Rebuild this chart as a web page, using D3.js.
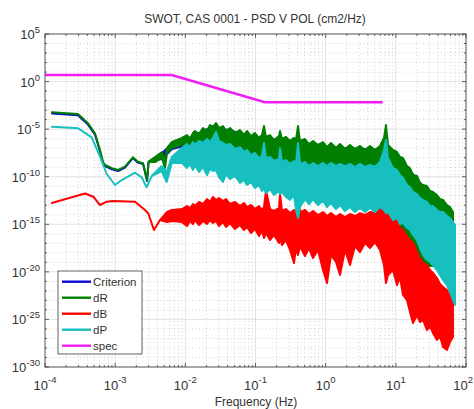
<!DOCTYPE html>
<html><head><meta charset="utf-8">
<script src="https://cdn.jsdelivr.net/npm/d3@7"></script>
<style>body{margin:0;background:#fff}svg{display:block}</style>
</head><body>
<svg id="c" width="474" height="409"></svg>
<script>
// ---------- text ----------
const chartTitle = "SWOT, CAS 0001 - PSD V POL (cm2/Hz)";
const xAxisLabel = "Frequency (Hz)";
const seriesNames = ["Criterion", "dR", "dB", "dP", "spec"];
const xTickExps = [-4, -3, -2, -1, 0, 1, 2];
const yTickExps = [5, 0, -5, -10, -15, -20, -25, -30];

// ---------- data (upper / lower edge of each trace) ----------
// common frequency grid of the dense (noisy) part, Hz
const bandF = [8.96e-3,1.056e-2,1.165e-2,1.286e-2,1.373e-2,1.566e-2,1.785e-2,2.036e-2,2.246e-2,2.478e-2,2.735e-2,3.018e-2,3.44e-2,3.80e-2,4.33e-2,5.10e-2,6.01e-2,6.85e-2,7.56e-2,8.62e-2,9.83e-2,0.1121,0.1238,0.1321,0.1411,0.1609,0.1834,0.2162,0.2234,0.2385,0.2720,0.3101,0.3536,0.3776,0.4031,0.4305,0.5074,0.5786,0.6597,0.7772,0.9158,1.044,1.191,1.403,1.600,1.885,2.222,2.617,3.084,3.634,4.281,5.045,5.943,6.778,7.237,7.730,9.108,10.38,11.46,12.65,14.42,15.91,17.56,20.02,22.09,24.37,27.79,30.67,33.84,38.59,42.58,46.98,53.57,59.12,65.23];

// Criterion
const criterionF  = [1.26e-4,2.95e-4,4.1e-4,5.16e-4,6.08e-4,6.7e-4,7.16e-4,9.0e-4,1.1e-3,1.38e-3,1.79e-3,2.11e-3,2.5e-3,2.85e-3,2.99e-3,3.7e-3,4.65e-3,6.46e-3,8.95e-3,1.29e-2,2.48e-2,0.0984,1.15,5.95,11.5,24.4,60.0];
const criterionHi = [4.5e-4,2.8e-4,3.0e-5,2.6e-6,4.8e-8,2.8e-9,1.3e-9,6.0e-10,4.0e-10,9.0e-10,9.0e-9,3.0e-9,2.1e-9,3.6e-11,3.0e-9,7.0e-9,3.0e-8,3.0e-7,4.5e-7,2.0e-6,2.0e-5,1.5e-6,1.2e-7,7e-8,8e-9,9e-12,1.3e-14];
const criterionLo = [4.5e-4,2.8e-4,3.0e-5,2.6e-6,4.8e-8,2.8e-9,1.3e-9,6.0e-10,4.0e-10,9.0e-10,9.0e-9,3.0e-9,2.1e-9,3.6e-11,3.0e-9,7.0e-9,7e-9,8e-8,1.5e-7,5e-8,8e-9,3e-10,5e-11,4.5e-11,1e-13,1e-14,5e-15];

// dR : low-frequency part, then values on bandF
const dRLowF  = [1.26e-4,2.95e-4,4.1e-4,5.16e-4,6.08e-4,6.7e-4,7.16e-4,9.0e-4,1.1e-3,1.38e-3,1.79e-3,2.11e-3,2.5e-3,2.85e-3,2.99e-3,3.7e-3,4.65e-3,5.13e-3,5.48e-3,6.46e-3];
const dRLowHi = [5.9e-4,3.9e-4,4.1e-5,3.7e-6,6.4e-8,3.8e-9,1.7e-9,7.7e-10,5.1e-10,1.13e-9,1.1e-8,3.8e-9,2.6e-9,4.5e-11,3.8e-9,1.18e-8,3.95e-8,5.7e-9,1.04e-7,4.45e-7];
const dRLowLo = [5.9e-4,3.9e-4,4.1e-5,3.7e-6,6.4e-8,3.8e-9,1.7e-9,7.7e-10,5.1e-10,1.13e-9,1.1e-8,3.8e-9,2.6e-9,4.5e-11,3.8e-9,3.5e-9,9.25e-9,8.2e-10,3.1e-8,1.04e-7];
const dRBandHi = [1.2e-6,2.4e-6,9.2e-7,3.9e-6,6.4e-6,3.1e-6,1.3e-5,6.4e-6,2.7e-5,1.7e-5,4.4e-5,1.3e-5,2.1e-5,6.4e-6,1.3e-5,3.9e-6,8.1e-6,2.4e-6,6.4e-6,1.9e-6,3.9e-6,1.2e-6,2.4e-6,2.1e-5,1.5e-6,2.4e-6,7.2e-7,1.9e-6,6.4e-6,9.2e-7,1.5e-6,5.7e-7,1.2e-6,7.2e-7,2.1e-5,5.7e-7,9.2e-7,2.7e-7,5.7e-7,2.2e-7,4.4e-7,1.3e-7,3.5e-7,1.04e-7,2.7e-7,8.2e-8,2.2e-7,8.2e-8,1.7e-7,6.4e-8,1.7e-7,6.4e-8,1.7e-7,1.2e-6,2.7e-5,2.2e-7,6.4e-8,4.0e-8,1.18e-8,9.2e-9,1.3e-9,8.2e-10,1.5e-10,1.19e-10,2.2e-11,1.34e-11,1.05e-11,3.1e-12,2.5e-12,1.19e-12,4.5e-13,3.6e-13,1.06e-13,6.5e-14,1.95e-14];
const dRBandLo = [2.2e-7,1.7e-7,1.04e-7,6.4e-8,5.0e-8,4.0e-8,1.9e-8,1.5e-8,1.18e-8,9.2e-9,5.7e-9,4.5e-9,3.5e-9,2.8e-9,1.7e-9,1.05e-9,8.2e-10,6.5e-10,5.1e-10,4.0e-10,3.1e-10,2.5e-10,1.5e-10,1.5e-10,1.5e-10,1.5e-10,1.5e-10,1.5e-10,1.5e-10,1.5e-10,1.19e-10,1.19e-10,1.19e-10,1.19e-10,1.19e-10,9.3e-11,9.3e-11,7.3e-11,7.3e-11,5.7e-11,5.7e-11,4.5e-11,4.5e-11,4.5e-11,4.5e-11,4.5e-11,4.5e-11,4.5e-11,4.5e-11,4.5e-11,4.5e-11,4.5e-11,4.5e-11,4.5e-11,4.5e-11,4.5e-11,2.8e-15,8.4e-16,2.5e-16,7.5e-17,2.2e-17,8.5e-18,3.2e-18,1.22e-18,2.85e-19,1.08e-19,5.2e-20,4.1e-20,4.1e-20,4.1e-20,5.2e-20,1.08e-19,2.85e-19,5.9e-19,2.2e-17];

// dB
const dBLowF  = [1.25e-4,3.72e-4,4.88e-4,6.08e-4,7.57e-4,9.4e-4,1.92e-3,2.66e-3,2.96e-3,3.57e-3,4.36e-3,5.48e-3,6.46e-3];
const dBLowHi = [1.73e-13,1.72e-12,7.9e-13,1.06e-13,2.36e-13,2.8e-13,2.36e-13,3.2e-14,1.43e-14,2.5e-16,2.8e-15,1.95e-14,3.2e-14];
const dBLowLo = [1.73e-13,1.72e-12,7.9e-13,1.06e-13,2.36e-13,2.8e-13,2.36e-13,3.2e-14,1.43e-14,2.5e-16,2.8e-15,1.73e-15,2.2e-15];
const dBBandHi = [4.0e-14,8.3e-14,5.1e-14,1.35e-13,8.3e-14,2.2e-13,1.35e-13,4.5e-13,2.2e-13,7.4e-13,3.6e-13,5.8e-13,2.8e-13,4.5e-13,1.35e-13,2.2e-13,8.3e-14,1.7e-13,6.5e-14,1.06e-13,4.0e-14,8.3e-14,3.2e-14,6.5e-14,4.0e-12,4.0e-14,2.5e-14,5.1e-14,1.9e-12,2.5e-14,4.0e-14,1.5e-14,3.2e-14,1.5e-14,8.3e-12,1.95e-14,3.2e-14,1.2e-14,2.5e-14,9.4e-15,1.95e-14,7.4e-15,1.5e-14,5.8e-15,1.2e-14,5.8e-15,1.2e-14,7.4e-15,1.5e-14,9.4e-15,1.95e-14,1.5e-14,5.1e-14,1.06e-13,3.6e-13,6.5e-14,9.4e-15,1.7e-15,4.1e-16,2.5e-16,5.9e-17,2.2e-17,1.08e-17,1.22e-18,2.85e-19,8.5e-20,5.2e-20,1.56e-20,7.6e-21,2.25e-21,5.3e-22,2.55e-22,1.24e-22,3.7e-23,1.1e-23];
const dBBandLo = [1.7e-15,6.6e-16,2.2e-15,1.07e-15,2.8e-15,8.4e-16,2.2e-15,1.07e-15,2.8e-15,1.36e-15,2.2e-15,6.6e-16,1.7e-15,5.2e-16,1.36e-15,3.2e-16,8.4e-16,2.5e-16,5.2e-16,1.21e-16,3.2e-16,5.9e-17,1.96e-16,3.6e-17,1.21e-16,2.2e-17,7.5e-17,1.08e-17,4.6e-17,6.6e-18,2.2e-17,2.0e-18,8.5e-20,3.2e-18,5.9e-19,5.2e-18,4.6e-19,3.2e-18,2.85e-19,2.0e-18,1.56e-20,6.7e-22,5.9e-19,1.08e-19,4.7e-21,2.0e-18,5.2e-20,5.2e-18,1.22e-18,1.08e-17,3.2e-18,1.37e-17,2.0e-18,5.2e-20,6.7e-22,4.7e-21,1.56e-20,4.1e-22,2.9e-21,3.7e-23,1.1e-23,6.0e-25,4.2e-26,2.9e-25,5.3e-26,8.7e-26,7.7e-27,2.0e-26,3.7e-27,6.9e-28,1.8e-27,1.26e-28,6.1e-29,4.2e-28,1.42e-27];

// dP
const dPLowF  = [1.25e-4,2.98e-4,4.63e-4,6.08e-4,7.57e-4,9.94e-4,1.24e-3,1.92e-3,2.39e-3,2.81e-3,3.32e-3,4.6e-3,5.42e-3,6.4e-3];
const dPLowHi = [1.81e-5,1.22e-5,1.39e-6,1.27e-8,1.93e-10,1.34e-11,4.5e-11,2.64e-10,8.65e-11,7.7e-12,1.19e-10,1.34e-9,3.1e-10,1.18e-8];
const dPLowLo = [1.81e-5,1.22e-5,1.39e-6,1.27e-8,1.93e-10,1.34e-11,4.5e-11,2.64e-10,8.65e-11,7.7e-12,1.19e-10,4.0e-10,2.8e-11,2.76e-9];
const dPBandHi = [1.04e-7,2.7e-7,1.3e-7,4.4e-7,2.2e-7,5.7e-7,3.5e-7,9.2e-7,4.4e-7,1.2e-6,5.0e-6,5.7e-7,3.5e-7,2.2e-7,2.7e-7,8.2e-8,1.3e-7,4.0e-8,6.4e-8,1.9e-8,3.1e-8,9.2e-9,1.5e-8,3.5e-7,9.2e-9,1.18e-8,4.5e-9,7.3e-9,1.04e-7,3.5e-9,5.7e-9,2.2e-9,4.5e-9,2.2e-9,3.5e-7,2.2e-9,3.5e-9,1.3e-9,2.8e-9,1.3e-9,2.8e-9,1.3e-9,2.8e-9,1.3e-9,2.2e-9,1.3e-9,2.2e-9,1.05e-9,2.2e-9,1.05e-9,1.7e-9,1.05e-9,3.5e-9,6.4e-8,7.2e-7,9.2e-9,8.2e-10,5.1e-10,1.5e-10,7.3e-11,1.34e-11,8.3e-12,2.5e-12,1.5e-12,5.8e-13,3.6e-13,2.2e-13,8.3e-14,8.3e-14,3.2e-14,1.95e-14,1.95e-14,7.4e-15,4.6e-15,1.7e-15];
const dPBandLo = [2.8e-9,8.2e-10,2.2e-9,5.1e-10,1.7e-9,3.1e-10,1.05e-9,1.5e-10,6.5e-10,4.0e-10,5.1e-10,9.3e-11,2.8e-11,1.9e-10,5.7e-11,1.19e-10,2.2e-11,4.5e-11,1.34e-11,2.8e-11,6.5e-12,1.34e-11,3.1e-12,6.5e-12,1.9e-12,5.1e-12,1.19e-12,3.1e-12,1.5e-12,2.5e-12,7.4e-13,3.6e-13,1.19e-12,3.2e-14,4.6e-15,6.5e-14,4.5e-13,1.35e-13,4.5e-13,1.06e-13,2.8e-13,6.5e-14,1.7e-13,4.0e-14,1.06e-13,2.5e-14,6.5e-14,1.95e-14,5.1e-14,1.95e-14,5.1e-14,1.95e-14,6.5e-14,3.2e-14,1.5e-14,1.95e-14,2.8e-15,4.6e-15,1.07e-15,1.36e-15,4.1e-16,2.5e-16,7.5e-17,2.2e-17,3.2e-18,5.9e-19,1.76e-19,1.08e-19,5.2e-20,1.56e-20,4.7e-21,1.4e-21,4.1e-22,7.6e-23,1.1e-23];
const dPEndF = [69.66], dPEndHi = [8.4e-16], dPEndLo = [3.3e-24];

// spec
const specF = [1e-4, 6.4e-3, 0.136, 6.5];
const specV = [4.9, 4.9, 6.6e-3, 6.6e-3];

const seriesColors = ["#0a0ad2", "#007f00", "#ff0000", "#17bfbf", "#f21df2"];

// ---------- layout ----------
const svg = d3.select("#c");
const P = {l: 45, r: 466, t: 34, b: 367};
const x = d3.scaleLog().domain([1e-4, 1e2]).range([P.l, P.r]);
const y = d3.scaleLog().domain([1e-30, 1e5]).range([P.b, P.t]);
const FONT = "'Liberation Sans', Arial, Helvetica, sans-serif";
const TXT = "#333";

svg.append("rect").attr("x", P.l).attr("y", P.t).attr("width", P.r - P.l).attr("height", P.b - P.t).attr("fill", "#fff");

// grid
const isDecade = v => Math.abs(Math.log10(v) - Math.round(Math.log10(v))) < 1e-6;
const xMinor = x.ticks().filter(v => !isDecade(v));
const xMajor = xTickExps.map(e => Math.pow(10, e));
const yMajor = yTickExps.map(e => Math.pow(10, e));
const yMinor = d3.range(-30, 6).filter(e => e % 5 !== 0).map(e => Math.pow(10, e));

const grid = svg.append("g");
grid.selectAll(".xm").data(xMinor).join("line")
  .attr("x1", d => x(d)).attr("x2", d => x(d)).attr("y1", P.t).attr("y2", P.b)
  .attr("stroke", "#c8c8c8").attr("stroke-width", 0.8).attr("stroke-dasharray", "1,2.5");
grid.selectAll(".ym").data(yMinor).join("line")
  .attr("y1", d => y(d)).attr("y2", d => y(d)).attr("x1", P.l).attr("x2", P.r)
  .attr("stroke", "#c8c8c8").attr("stroke-width", 0.8).attr("stroke-dasharray", "1,2.5");
grid.selectAll(".xM").data(xMajor).join("line")
  .attr("x1", d => x(d)).attr("x2", d => x(d)).attr("y1", P.t).attr("y2", P.b)
  .attr("stroke", "#dcdcdc").attr("stroke-width", 0.8);
grid.selectAll(".yM").data(yMajor).join("line")
  .attr("y1", d => y(d)).attr("y2", d => y(d)).attr("x1", P.l).attr("x2", P.r)
  .attr("stroke", "#dcdcdc").attr("stroke-width", 0.8);

// data
svg.append("clipPath").attr("id", "clip").append("rect")
  .attr("x", P.l).attr("y", P.t).attr("width", P.r - P.l).attr("height", P.b - P.t);
const plot = svg.append("g").attr("clip-path", "url(#clip)");

function band(f, hi, lo, color) {
  const data = f.map((v, i) => ({f: v, hi: hi[i], lo: lo[i]}));
  const area = d3.area().x(d => x(d.f)).y0(d => y(d.lo)).y1(d => y(d.hi));
  plot.append("path").attr("d", area(data))
    .attr("fill", color).attr("stroke", color).attr("stroke-width", 2)
    .attr("stroke-linejoin", "round");
}
band(criterionF, criterionHi, criterionLo, seriesColors[0]);
band(dRLowF.concat(bandF), dRLowHi.concat(dRBandHi), dRLowLo.concat(dRBandLo), seriesColors[1]);
band(dBLowF.concat(bandF), dBLowHi.concat(dBBandHi), dBLowLo.concat(dBBandLo), seriesColors[2]);
band(dPLowF.concat(bandF, dPEndF), dPLowHi.concat(dPBandHi, dPEndHi), dPLowLo.concat(dPBandLo, dPEndLo), seriesColors[3]);
plot.append("path")
  .attr("d", d3.line().x((d, i) => x(specF[i])).y((d, i) => y(specV[i]))(specF))
  .attr("fill", "none").attr("stroke", seriesColors[4]).attr("stroke-width", 2.6);

// axes box + ticks
const ax = svg.append("g").attr("stroke", "#3a3a3a").attr("stroke-width", 0.8);
ax.append("rect").attr("x", P.l).attr("y", P.t).attr("width", P.r - P.l).attr("height", P.b - P.t).attr("fill", "none");
function xt(vals, len) {
  vals.forEach(v => {
    ax.append("line").attr("x1", x(v)).attr("x2", x(v)).attr("y1", P.b).attr("y2", P.b - len);
    ax.append("line").attr("x1", x(v)).attr("x2", x(v)).attr("y1", P.t).attr("y2", P.t + len);
  });
}
function yt(vals, len) {
  vals.forEach(v => {
    ax.append("line").attr("y1", y(v)).attr("y2", y(v)).attr("x1", P.l).attr("x2", P.l + len);
    ax.append("line").attr("y1", y(v)).attr("y2", y(v)).attr("x1", P.r).attr("x2", P.r - len);
  });
}
xt(xMajor, 4); xt(xMinor, 2); yt(yMajor, 4); yt(yMinor, 2);

// tick labels
const lab = svg.append("g").attr("font-family", FONT).attr("fill", TXT);
function measure(str, size) {
  const t = lab.append("text").attr("font-size", size).text(str);
  const w = t.node().getComputedTextLength(); t.remove(); return w;
}
const BASE = 13, EXP = 9.5;
const w10 = measure("10", BASE);
yTickExps.forEach(e => {
  const es = String(e), we = measure(es, EXP), yy = y(Math.pow(10, e));
  lab.append("text").attr("x", 40).attr("y", yy - 1).attr("font-size", EXP).attr("text-anchor", "end").text(es);
  lab.append("text").attr("x", 40 - we).attr("y", yy + 5).attr("font-size", BASE).attr("text-anchor", "end").text("10");
});
xTickExps.forEach(e => {
  const es = String(e), we = measure(es, EXP), xx = x(Math.pow(10, e));
  let x0 = xx - (w10 + we) / 2;
  x0 = Math.min(x0, 473 - (w10 + we));
  lab.append("text").attr("x", x0).attr("y", 390).attr("font-size", BASE).text("10");
  lab.append("text").attr("x", x0 + w10).attr("y", 383).attr("font-size", EXP).text(es);
});

// titles
lab.append("text").attr("x", 255).attr("y", 23).attr("font-size", 12).attr("text-anchor", "middle").text(chartTitle);
lab.append("text").attr("x", 256).attr("y", 406).attr("font-size", 12).attr("text-anchor", "middle").text(xAxisLabel);

// legend
const lg = svg.append("g").attr("font-family", FONT);
lg.append("rect").attr("x", 58).attr("y", 271).attr("width", 84).attr("height", 83)
  .attr("fill", "#fff").attr("stroke", "#3a3a3a").attr("stroke-width", 0.8);
seriesNames.forEach((n, i) => {
  const yy = 281.7 + i * 16;
  lg.append("line").attr("x1", 62).attr("x2", 91).attr("y1", yy).attr("y2", yy)
    .attr("stroke", seriesColors[i]).attr("stroke-width", 2.4);
  lg.append("text").attr("x", 93).attr("y", yy + 4).attr("font-size", 11.5).attr("fill", TXT).text(n);
});
</script>
</body></html>
